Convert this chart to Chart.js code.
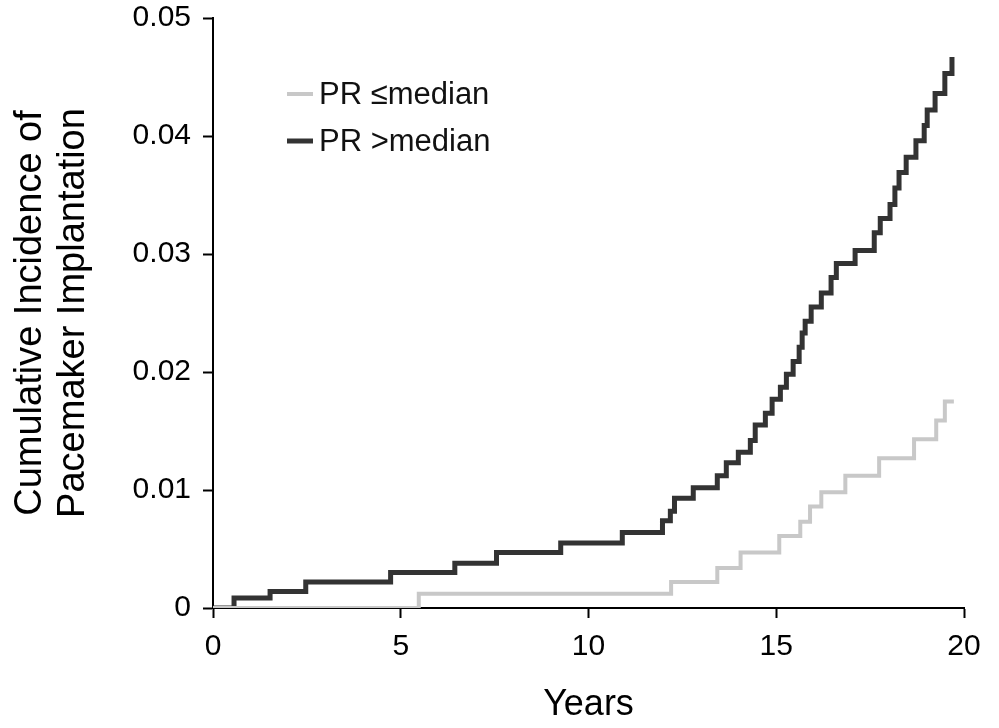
<!DOCTYPE html>
<html>
<head>
<meta charset="utf-8">
<script src="https://cdn.jsdelivr.net/npm/chart.js@4/dist/chart.umd.min.js"></script>
<style>
  html, body { margin: 0; padding: 0; background: #ffffff; }
  #wrap { width: 999px; height: 728px; }
</style>
</head>
<body>
<div id="wrap"><canvas id="kmChart" width="999" height="728"></canvas></div>
<script>
// ---- data ----
const seriesLabels = ["PR \u2264median", "PR >median"];
const seriesColors = ["#c8c8c8", "#333333"];

// PR <= median: time of each step (years) and cumulative incidence after it
const yearsLow = [0, 5.48, 12.2, 13.43, 14.05, 15.08, 15.64, 15.9, 16.2, 16.84, 17.74, 18.67, 19.26, 19.49, 19.73];
const riskLow = [0, 0.0012, 0.0022, 0.0034, 0.0047, 0.0061, 0.0073, 0.0086, 0.0098, 0.0112, 0.0127, 0.0143, 0.0159, 0.0175, 0.0175];

// PR > median
const yearsHigh = [0, 0.56, 1.52, 2.47, 4.73, 6.44, 7.55, 9.26, 10.9, 11.97, 12.18, 12.29, 12.79, 13.43, 13.67, 13.99,
  14.31, 14.44, 14.71, 14.89, 15.11, 15.27, 15.45, 15.61, 15.69, 15.77, 15.93, 16.2, 16.46, 16.6, 17.1, 17.61, 17.77,
  18.03, 18.16, 18.27, 18.46, 18.72, 18.94, 19.02, 19.23, 19.49, 19.68];
const riskHigh = [0, 0.00085, 0.0014, 0.0022, 0.003, 0.0038, 0.0047, 0.0055, 0.0064, 0.0074, 0.0082, 0.0093, 0.0102, 0.0112, 0.0123, 0.0132,
  0.0142, 0.0155, 0.0165, 0.0177, 0.0187, 0.0198, 0.0209, 0.0221, 0.0233, 0.0243, 0.0255, 0.0267, 0.028, 0.0292, 0.0303, 0.0318, 0.033,
  0.0342, 0.0356, 0.0369, 0.0382, 0.0396, 0.0409, 0.0422, 0.0436, 0.0453, 0.0467];

const yTickLabels = ["0", "0.01", "0.02", "0.03", "0.04", "0.05"];
const xTickLabels = ["0", "5", "10", "15", "20"];

const FONT = "'Liberation Sans', Arial, Helvetica, sans-serif";

// ---- helpers ----
function toPoints(xs, ys) {
  return xs.map((x, i) => ({ x: x, y: ys[i] }));
}

// legend drawn inside the plot, upper left
const insideLegend = {
  id: "insideLegend",
  afterDatasetsDraw(chart) {
    const ctx = chart.ctx;
    const area = chart.chartArea;
    const x0 = area.left + 74;
    const y0 = area.top + 76;
    ctx.save();
    chart.data.datasets.forEach((ds, i) => {
      const y = y0 + i * 47;
      ctx.strokeStyle = ds.borderColor;
      ctx.lineWidth = ds.borderWidth;
      ctx.beginPath();
      ctx.moveTo(x0, y);
      ctx.lineTo(x0 + 26, y);
      ctx.stroke();
      ctx.fillStyle = "#111111";
      ctx.font = "31px " + FONT;
      ctx.textBaseline = "middle";
      ctx.textAlign = "left";
      ctx.fillText(ds.label, x0 + 32, y + 1);
    });
    ctx.restore();
  },
};

// ---- chart ----
const ctx = document.getElementById("kmChart").getContext("2d");

new Chart(ctx, {
  type: "line",
  data: {
    datasets: [
      {
        label: seriesLabels[0],
        data: toPoints(yearsLow, riskLow),
        borderColor: seriesColors[0],
        borderWidth: 4,
        stepped: "before",
        pointRadius: 0,
        fill: false,
      },
      {
        label: seriesLabels[1],
        data: toPoints(yearsHigh, riskHigh),
        borderColor: seriesColors[1],
        borderWidth: 5,
        stepped: "before",
        pointRadius: 0,
        fill: false,
      },
    ],
  },
  options: {
    responsive: false,
    animation: false,
    layout: { padding: { top: 18, right: 35, left: 0, bottom: 0 } },
    plugins: {
      legend: { display: false },
      tooltip: { enabled: false },
    },
    scales: {
      x: {
        type: "linear",
        min: 0,
        max: 20,
        z: 1,
        afterFit: (scale) => { scale.height = 120; },
        border: { display: true, color: "#000000", width: 2 },
        grid: { drawOnChartArea: false, drawTicks: true, tickLength: 10, tickWidth: 2, tickColor: "#000000" },
        ticks: {
          stepSize: 5,
          padding: 11,
          color: "#000000",
          font: { family: FONT, size: 30 },
          maxRotation: 0,
          callback: (v, i) => xTickLabels[i],
        },
        title: {
          display: true,
          text: "Years",
          color: "#000000",
          font: { family: FONT, size: 36 },
          padding: { top: 0, bottom: 1 },
        },
      },
      y: {
        type: "linear",
        min: 0,
        max: 0.05,
        afterFit: (scale) => {
          scale.width = 213;
          scale.paddingTop = 0;
          scale.paddingBottom = 0;
        },
        border: { display: true, color: "#000000", width: 2 },
        grid: { drawOnChartArea: false, drawTicks: true, tickLength: 10, tickWidth: 2, tickColor: "#000000" },
        ticks: {
          stepSize: 0.01,
          padding: 12,
          color: "#000000",
          font: { family: FONT, size: 30 },
          callback: (v, i) => yTickLabels[i],
        },
        title: {
          display: true,
          text: ["Cumulative Incidence of", "Pacemaker Implantation"],
          color: "#000000",
          font: { family: FONT, size: 38, lineHeight: 1.13 },
          padding: { top: 9, bottom: 0 },
        },
      },
    },
  },
  plugins: [insideLegend],
});
</script>
</body>
</html>
